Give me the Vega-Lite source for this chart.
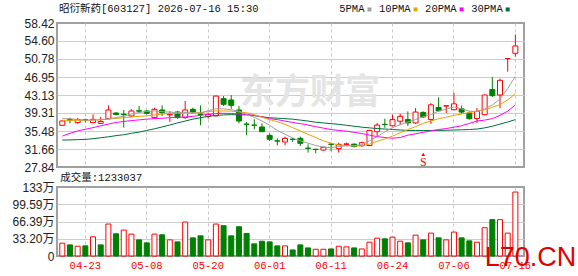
{
  "$schema": "https://vega.github.io/schema/vega-lite/v6.json",
  "background": "white",
  "padding": {"left": 10, "top": 3, "right": 0, "bottom": 0},
  "bounds": "flush",
  "spacing": 20,
  "config": {
    "view": {"stroke": "#a0a0a0", "strokeWidth": 2},
    "axis": {"labelFont": "Liberation Sans, Noto Sans CJK SC", "labelFontSize": 12, "labelColor": "#222222", "ticks": false, "domain": false, "gridColor": "#cccccc"}
  },
  "datasets": {
    "k": [
      {"d":"2026-04-20","o":36.69,"h":37.75,"l":36.6,"c":37.61,"v":247000,"vd":"up","m5":38.1,"m10":37.75,"m20":34.4,"m30":33.55},
      {"d":"2026-04-21","o":37.9,"h":38.3,"l":37.1,"c":37.8,"v":214000,"vd":"down","m5":38.1,"m10":37.75,"m20":35.0,"m30":33.6},
      {"d":"2026-04-22","o":37.26,"h":38.2,"l":37.05,"c":37.96,"v":188000,"vd":"up","m5":37.9,"m10":37.75,"m20":35.5,"m30":33.65},
      {"d":"2026-04-23","o":37.9,"h":38.1,"l":37.3,"c":37.85,"v":195000,"vd":"down","m5":37.8,"m10":37.75,"m20":35.85,"m30":33.7},
      {"d":"2026-04-24","o":37.26,"h":39.0,"l":37.1,"c":37.96,"v":370000,"vd":"up","m5":37.8,"m10":37.8,"m20":36.2,"m30":33.85},
      {"d":"2026-04-27","o":37.1,"h":38.5,"l":37.0,"c":37.5,"v":214000,"vd":"down","m5":37.9,"m10":37.85,"m20":36.6,"m30":34.05},
      {"d":"2026-04-28","o":38.1,"h":40.94,"l":37.96,"c":39.95,"v":616000,"vd":"up","m5":38.05,"m10":38.0,"m20":36.95,"m30":34.25},
      {"d":"2026-04-29","o":39.3,"h":39.5,"l":38.8,"c":39.0,"v":428000,"vd":"down","m5":38.35,"m10":38.15,"m20":37.3,"m30":34.5},
      {"d":"2026-04-30","o":39.05,"h":39.95,"l":36.2,"c":38.95,"v":500000,"vd":"up","m5":38.6,"m10":38.3,"m20":37.5,"m30":34.7},
      {"d":"2026-05-06","o":38.67,"h":40.1,"l":38.5,"c":39.73,"v":422000,"vd":"up","m5":39.1,"m10":38.45,"m20":37.7,"m30":35.0},
      {"d":"2026-05-07","o":39.8,"h":40.8,"l":39.3,"c":39.7,"v":311000,"vd":"down","m5":39.4,"m10":38.6,"m20":37.85,"m30":35.25},
      {"d":"2026-05-08","o":39.73,"h":39.95,"l":39.0,"c":39.24,"v":253000,"vd":"down","m5":39.65,"m10":38.7,"m20":38.0,"m30":35.6},
      {"d":"2026-05-11","o":38.32,"h":40.44,"l":38.1,"c":40.09,"v":422000,"vd":"up","m5":39.75,"m10":38.9,"m20":38.1,"m30":35.95},
      {"d":"2026-05-12","o":39.95,"h":40.94,"l":38.67,"c":39.38,"v":409000,"vd":"down","m5":39.6,"m10":39.1,"m20":38.2,"m30":36.35},
      {"d":"2026-05-13","o":38.9,"h":39.73,"l":37.4,"c":39.05,"v":311000,"vd":"up","m5":39.5,"m10":39.2,"m20":38.3,"m30":36.75},
      {"d":"2026-05-14","o":39.52,"h":39.73,"l":38.1,"c":38.32,"v":272000,"vd":"down","m5":39.4,"m10":39.25,"m20":38.4,"m30":37.2},
      {"d":"2026-05-15","o":38.32,"h":41.86,"l":38.1,"c":39.95,"v":655000,"vd":"up","m5":39.4,"m10":39.25,"m20":38.45,"m30":37.6},
      {"d":"2026-05-18","o":40.09,"h":40.44,"l":39.24,"c":39.52,"v":350000,"vd":"down","m5":39.3,"m10":39.3,"m20":38.6,"m30":38.0},
      {"d":"2026-05-19","o":39.1,"h":40.9,"l":36.7,"c":39.0,"v":389000,"vd":"down","m5":39.3,"m10":39.4,"m20":38.8,"m30":38.3},
      {"d":"2026-05-20","o":38.55,"h":39.4,"l":38.1,"c":39.0,"v":311000,"vd":"up","m5":39.8,"m10":39.6,"m20":39.0,"m30":38.6},
      {"d":"2026-05-21","o":38.7,"h":43.0,"l":38.6,"c":42.9,"v":616000,"vd":"up","m5":40.2,"m10":39.75,"m20":39.2,"m30":38.8},
      {"d":"2026-05-22","o":42.35,"h":42.9,"l":40.8,"c":41.15,"v":584000,"vd":"down","m5":40.2,"m10":39.75,"m20":39.25,"m30":38.9},
      {"d":"2026-05-25","o":42.07,"h":43.1,"l":40.2,"c":40.94,"v":389000,"vd":"down","m5":40.0,"m10":39.7,"m20":39.2,"m30":38.95},
      {"d":"2026-05-26","o":39.95,"h":40.8,"l":37.1,"c":37.61,"v":564000,"vd":"down","m5":39.7,"m10":39.55,"m20":39.1,"m30":38.95},
      {"d":"2026-05-27","o":36.95,"h":37.4,"l":34.56,"c":36.9,"v":435000,"vd":"down","m5":39.0,"m10":39.35,"m20":39.0,"m30":38.9},
      {"d":"2026-05-28","o":36.75,"h":37.96,"l":35.84,"c":36.7,"v":234000,"vd":"down","m5":38.4,"m10":38.95,"m20":38.8,"m30":38.75},
      {"d":"2026-05-29","o":36.34,"h":37.1,"l":35.3,"c":35.34,"v":285000,"vd":"down","m5":37.6,"m10":38.4,"m20":38.5,"m30":38.5},
      {"d":"2026-06-01","o":34.56,"h":34.99,"l":33.36,"c":33.72,"v":272000,"vd":"down","m5":36.7,"m10":37.9,"m20":38.1,"m30":38.3},
      {"d":"2026-06-02","o":33.4,"h":33.9,"l":32.44,"c":33.35,"v":195000,"vd":"down","m5":35.6,"m10":37.45,"m20":37.9,"m30":38.2},
      {"d":"2026-06-03","o":33.15,"h":34.28,"l":32.44,"c":33.93,"v":195000,"vd":"up","m5":34.8,"m10":36.9,"m20":37.6,"m30":38.1},
      {"d":"2026-06-04","o":33.75,"h":34.07,"l":33.15,"c":33.7,"v":117000,"vd":"down","m5":34.0,"m10":36.2,"m20":37.3,"m30":38.0},
      {"d":"2026-06-05","o":33.93,"h":34.28,"l":32.3,"c":32.87,"v":214000,"vd":"down","m5":33.4,"m10":35.5,"m20":37.05,"m30":37.8},
      {"d":"2026-06-08","o":31.85,"h":32.65,"l":30.9,"c":31.8,"v":156000,"vd":"down","m5":32.9,"m10":34.8,"m20":36.75,"m30":37.6},
      {"d":"2026-06-09","o":31.6,"h":31.73,"l":30.74,"c":31.55,"v":130000,"vd":"up","m5":32.4,"m10":34.1,"m20":36.4,"m30":37.35},
      {"d":"2026-06-10","o":31.45,"h":32.16,"l":31.3,"c":32.02,"v":130000,"vd":"up","m5":32.1,"m10":33.4,"m20":36.1,"m30":37.2},
      {"d":"2026-06-11","o":32.7,"h":33.0,"l":31.2,"c":32.65,"v":136000,"vd":"down","m5":31.95,"m10":32.9,"m20":35.8,"m30":37.05},
      {"d":"2026-06-12","o":31.73,"h":33.0,"l":30.9,"c":32.65,"v":188000,"vd":"up","m5":32.2,"m10":32.5,"m20":35.6,"m30":36.9},
      {"d":"2026-06-15","o":32.65,"h":33.0,"l":32.3,"c":32.75,"v":175000,"vd":"up","m5":32.35,"m10":32.4,"m20":35.45,"m30":36.7},
      {"d":"2026-06-16","o":32.69,"h":32.83,"l":32.0,"c":32.2,"v":156000,"vd":"down","m5":32.35,"m10":32.3,"m20":35.2,"m30":36.5},
      {"d":"2026-06-17","o":32.35,"h":33.2,"l":32.15,"c":33.0,"v":136000,"vd":"up","m5":32.6,"m10":32.35,"m20":34.95,"m30":36.3},
      {"d":"2026-06-18","o":32.4,"h":35.75,"l":32.27,"c":35.6,"v":266000,"vd":"up","m5":33.4,"m10":32.7,"m20":34.6,"m30":36.15},
      {"d":"2026-06-22","o":35.34,"h":37.2,"l":34.08,"c":36.73,"v":344000,"vd":"up","m5":34.3,"m10":33.3,"m20":34.3,"m30":36.0},
      {"d":"2026-06-23","o":36.9,"h":38.1,"l":36.17,"c":36.85,"v":331000,"vd":"down","m5":35.3,"m10":33.8,"m20":34.1,"m30":35.9},
      {"d":"2026-06-24","o":36.59,"h":38.95,"l":36.5,"c":37.91,"v":363000,"vd":"up","m5":36.2,"m10":34.4,"m20":33.95,"m30":35.8},
      {"d":"2026-06-25","o":37.56,"h":39.16,"l":36.73,"c":38.61,"v":285000,"vd":"up","m5":36.8,"m10":35.1,"m20":34.1,"m30":35.7},
      {"d":"2026-06-26","o":37.91,"h":39.65,"l":36.52,"c":37.2,"v":253000,"vd":"down","m5":37.4,"m10":35.8,"m20":34.6,"m30":35.6},
      {"d":"2026-06-29","o":37.2,"h":40.35,"l":37.0,"c":39.51,"v":402000,"vd":"up","m5":37.9,"m10":36.4,"m20":34.9,"m30":35.6},
      {"d":"2026-06-30","o":39.44,"h":39.65,"l":38.26,"c":38.47,"v":311000,"vd":"down","m5":38.5,"m10":37.1,"m20":35.2,"m30":35.6},
      {"d":"2026-07-01","o":37.91,"h":41.39,"l":37.0,"c":41.04,"v":441000,"vd":"up","m5":39.0,"m10":37.6,"m20":35.5,"m30":35.6},
      {"d":"2026-07-02","o":40.49,"h":42.64,"l":39.65,"c":39.79,"v":350000,"vd":"down","m5":39.7,"m10":38.1,"m20":35.8,"m30":35.6},
      {"d":"2026-07-03","o":40.8,"h":40.85,"l":39.3,"c":40.85,"v":311000,"vd":"up","m5":40.1,"m10":38.4,"m20":36.0,"m30":35.65},
      {"d":"2026-07-06","o":40.0,"h":43.62,"l":39.9,"c":41.25,"v":461000,"vd":"up","m5":40.6,"m10":38.8,"m20":36.3,"m30":35.7},
      {"d":"2026-07-07","o":40.2,"h":40.9,"l":39.1,"c":39.5,"v":350000,"vd":"down","m5":40.2,"m10":39.1,"m20":36.6,"m30":35.75},
      {"d":"2026-07-08","o":39.3,"h":39.65,"l":37.9,"c":38.1,"v":292000,"vd":"down","m5":39.7,"m10":39.4,"m20":37.1,"m30":35.8},
      {"d":"2026-07-09","o":38.12,"h":40.35,"l":37.2,"c":39.65,"v":266000,"vd":"up","m5":39.6,"m10":39.7,"m20":37.6,"m30":35.9},
      {"d":"2026-07-10","o":38.95,"h":43.2,"l":38.8,"c":43.13,"v":545000,"vd":"up","m5":40.2,"m10":40.0,"m20":37.8,"m30":36.15},
      {"d":"2026-07-13","o":44.31,"h":46.96,"l":42.7,"c":42.99,"v":701000,"vd":"down","m5":41.0,"m10":40.5,"m20":38.1,"m30":36.5},
      {"d":"2026-07-14","o":43.13,"h":46.6,"l":40.35,"c":46.25,"v":701000,"vd":"up","m5":42.3,"m10":41.1,"m20":38.8,"m30":36.95},
      {"d":"2026-07-15","o":50.88,"h":50.88,"l":48.08,"c":50.88,"v":441000,"vd":"up","m5":44.5,"m10":42.1,"m20":39.7,"m30":37.4},
      {"d":"2026-07-16","o":51.98,"h":55.97,"l":51.27,"c":53.54,"v":1233037,"vd":"up","m5":47.1,"m10":43.4,"m20":41.0,"m30":37.9}
    ]
  },
  "vconcat": [
    {
      "width": 467,
      "height": 144,
      "data": {"name": "k"},
      "encoding": {
        "x": {
          "field": "d", "type": "ordinal", "title": null,
          "scale": {"type": "band", "paddingInner": 0, "paddingOuter": 0.4076, "align": 0.235,
            "domain": ["2026-04-20","2026-04-21","2026-04-22","2026-04-23","2026-04-24","2026-04-27","2026-04-28","2026-04-29","2026-04-30","2026-05-06","2026-05-07","2026-05-08","2026-05-11","2026-05-12","2026-05-13","2026-05-14","2026-05-15","2026-05-18","2026-05-19","2026-05-20","2026-05-21","2026-05-22","2026-05-25","2026-05-26","2026-05-27","2026-05-28","2026-05-29","2026-06-01","2026-06-02","2026-06-03","2026-06-04","2026-06-05","2026-06-08","2026-06-09","2026-06-10","2026-06-11","2026-06-12","2026-06-15","2026-06-16","2026-06-17","2026-06-18","2026-06-22","2026-06-23","2026-06-24","2026-06-25","2026-06-26","2026-06-29","2026-06-30","2026-07-01","2026-07-02","2026-07-03","2026-07-06","2026-07-07","2026-07-08","2026-07-09","2026-07-10","2026-07-13","2026-07-14","2026-07-15","2026-07-16"]},
          "axis": {"values": ["2026-04-23","2026-05-08","2026-05-20","2026-06-01","2026-06-11","2026-06-24","2026-07-06","2026-07-16"], "labels": false, "grid": true, "gridDash": [3, 3], "gridColor": "#c8c8c8", "bandPosition": 0.5}
        },
        "y": {"field": "l", "type": "quantitative", "title": null,
          "scale": {"domain": [27.84, 58.42], "nice": false, "zero": false},
          "axis": {"values": [27.84, 31.66, 35.48, 39.31, 43.13, 46.95, 50.78, 54.6, 58.42], "format": ".2f", "grid": true, "gridColor": "#cccccc", "gridOpacity": {"condition": {"test": "datum.value < 28 || datum.value > 58", "value": 0}, "value": 1}, "labelPadding": 3}}
      },
      "layer": [
        {
          "data": {"values": [{"d": "2026-06-08", "l": 43.66, "t": "东方财富"}]},
          "mark": {"type": "text", "font": "Noto Sans CJK SC", "fontSize": 35, "fontWeight": "bold", "color": "#e4e4e4", "align": "center", "baseline": "middle", "dx": 2},
          "encoding": {"text": {"field": "t"}}
        },
        {
          "mark": {"type": "rule", "strokeWidth": 1},
          "encoding": {"y2": {"field": "h"}, "color": {"condition": {"test": "datum.c >= datum.o", "value": "#ff0000"}, "value": "#008000"}}
        },
        {
          "mark": {"type": "bar", "width": 5, "strokeWidth": 1},
          "encoding": {"y": {"field": "o", "type": "quantitative", "title": null, "scale": {"domain": [27.84, 58.42], "nice": false, "zero": false}}, "y2": {"field": "c"}, "fill": {"condition": {"test": "datum.c >= datum.o", "value": "#ffffff"}, "value": "#008000"}, "stroke": {"condition": {"test": "datum.c >= datum.o", "value": "#ff0000"}, "value": "#008000"}}
        },
        {
          "mark": {"type": "line", "strokeWidth": 1, "color": "#00703c"},
          "encoding": {"y": {"field": "m30", "type": "quantitative", "title": null, "scale": {"domain": [27.84, 58.42], "nice": false, "zero": false}}}
        },
        {
          "mark": {"type": "line", "strokeWidth": 1, "color": "#ff00ff"},
          "encoding": {"y": {"field": "m20", "type": "quantitative", "title": null, "scale": {"domain": [27.84, 58.42], "nice": false, "zero": false}}}
        },
        {
          "mark": {"type": "line", "strokeWidth": 1, "color": "#f0a000"},
          "encoding": {"y": {"field": "m10", "type": "quantitative", "title": null, "scale": {"domain": [27.84, 58.42], "nice": false, "zero": false}}}
        },
        {
          "mark": {"type": "line", "strokeWidth": 1, "color": "#a0a0a0"},
          "encoding": {"y": {"field": "m5", "type": "quantitative", "title": null, "scale": {"domain": [27.84, 58.42], "nice": false, "zero": false}}}
        },
        {
          "data": {"values": [{"d": "2026-06-30", "l": 30.5}]},
          "mark": {"type": "point", "shape": "triangle-up", "filled": true, "size": 14, "color": "#ff0000", "opacity": 1}
        },
        {
          "data": {"values": [{"d": "2026-06-30", "l": 28.85, "t": "S"}]},
          "mark": {"type": "text", "font": "Liberation Serif", "fontSize": 12, "color": "#ff0000", "align": "center", "baseline": "middle"},
          "encoding": {"text": {"field": "t"}}
        },
        {
          "data": {"values": [{"d": "2026-04-20", "l": 61.3, "t": "昭衍新药[603127] 2026-07-16 15:30"}]},
          "mark": {"type": "text", "font": "Liberation Mono, Noto Sans CJK SC", "fontSize": 10.5, "color": "#111111", "align": "left", "baseline": "middle", "dx": -3.3},
          "encoding": {"text": {"field": "t"}}
        },
        {
          "data": {"values": [{"d": "2026-06-18", "l": 61.3, "t": "5PMA"}, {"d": "2026-06-29", "l": 61.3, "t": "10PMA"}, {"d": "2026-07-07", "l": 61.3, "t": "20PMA"}, {"d": "2026-07-15", "l": 61.3, "t": "30PMA"}]},
          "mark": {"type": "text", "font": "Liberation Mono", "fontSize": 10.5, "color": "#111111", "align": "right", "baseline": "middle", "dx": -5},
          "encoding": {"text": {"field": "t"}}
        },
        {
          "data": {"values": [{"d": "2026-06-18", "l": 61.3, "t": "5PMA"}, {"d": "2026-06-29", "l": 61.3, "t": "10PMA"}, {"d": "2026-07-07", "l": 61.3, "t": "20PMA"}, {"d": "2026-07-15", "l": 61.3, "t": "30PMA"}]},
          "mark": {"type": "point", "shape": "square", "filled": true, "size": 16, "opacity": 1},
          "encoding": {"color": {"field": "t", "type": "nominal", "legend": null, "scale": {"domain": ["5PMA", "10PMA", "20PMA", "30PMA"], "range": ["#a0a0a0", "#f0a000", "#ff00ff", "#00703c"]}}}
        }
      ]
    },
    {
      "width": 467,
      "height": 69,
      "data": {"name": "k"},
      "encoding": {
        "x": {
          "field": "d", "type": "ordinal", "title": null,
          "scale": {"type": "band", "paddingInner": 0, "paddingOuter": 0.4076, "align": 0.235,
            "domain": ["2026-04-20","2026-04-21","2026-04-22","2026-04-23","2026-04-24","2026-04-27","2026-04-28","2026-04-29","2026-04-30","2026-05-06","2026-05-07","2026-05-08","2026-05-11","2026-05-12","2026-05-13","2026-05-14","2026-05-15","2026-05-18","2026-05-19","2026-05-20","2026-05-21","2026-05-22","2026-05-25","2026-05-26","2026-05-27","2026-05-28","2026-05-29","2026-06-01","2026-06-02","2026-06-03","2026-06-04","2026-06-05","2026-06-08","2026-06-09","2026-06-10","2026-06-11","2026-06-12","2026-06-15","2026-06-16","2026-06-17","2026-06-18","2026-06-22","2026-06-23","2026-06-24","2026-06-25","2026-06-26","2026-06-29","2026-06-30","2026-07-01","2026-07-02","2026-07-03","2026-07-06","2026-07-07","2026-07-08","2026-07-09","2026-07-10","2026-07-13","2026-07-14","2026-07-15","2026-07-16"]},
          "axis": {"values": ["2026-04-23","2026-05-08","2026-05-20","2026-06-01","2026-06-11","2026-06-24","2026-07-06","2026-07-16"], "labelExpr": "slice(datum.value, 5)", "labelColor": "#ff0000", "labelFont": "Liberation Mono", "labelFontSize": 10.5, "labelPadding": 4, "labelAngle": 0, "grid": true, "gridDash": [3, 3], "gridColor": "#c8c8c8", "bandPosition": 0.5}
        },
        "y": {"field": "v", "type": "quantitative", "title": null, "scale": {"domain": [0, 1330000], "nice": false},
          "axis": {"values": [0, 332000, 663900, 995900, 1330000], "labelExpr": "datum.value === 0 ? '0' : replace(format(datum.value / 10000, '.2f'), '.00', '') + '万'", "grid": true, "gridColor": "#cccccc", "gridOpacity": {"condition": {"test": "datum.value <= 0 || datum.value >= 1330000", "value": 0}, "value": 1}, "labelPadding": 3}}
      },
      "layer": [
        {
          "mark": {"type": "bar", "width": 5, "strokeWidth": 1},
          "encoding": {
            "fill": {"condition": {"test": "datum.vd === 'up'", "value": "#ffffff"}, "value": "#008000"},
            "stroke": {"condition": {"test": "datum.vd === 'up'", "value": "#ff0000"}, "value": "#008000"}
          }
        },
        {
          "data": {"values": [{"d": "2026-04-20", "v": 1503000, "t": "成交量:1233037"}]},
          "mark": {"type": "text", "font": "Liberation Mono, Noto Sans CJK SC", "fontSize": 10.5, "color": "#111111", "align": "left", "baseline": "middle", "dx": -2},
          "encoding": {"text": {"field": "t"}}
        },
        {
          "data": {"values": [{"d": "2026-07-10", "v": -190000, "t": "L70.CN"}]},
          "mark": {"type": "text", "font": "Liberation Sans", "fontSize": 27, "color": "#e00000", "align": "left", "baseline": "alphabetic"},
          "encoding": {"text": {"field": "t"}}
        }
      ]
    }
  ]
}
